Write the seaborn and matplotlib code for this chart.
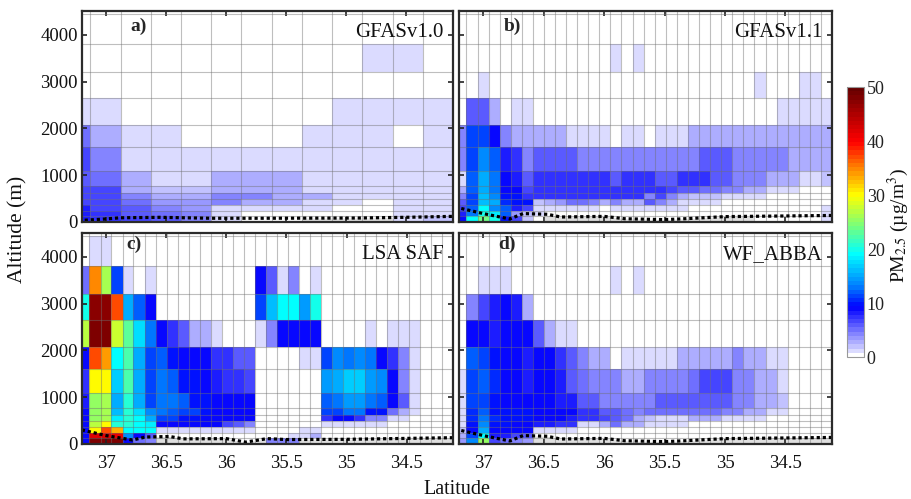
import numpy as np
import pandas as pd
import seaborn as sns
import matplotlib
matplotlib.use('Agg')
import matplotlib.pyplot as plt
from matplotlib.colors import LinearSegmentedColormap

# bin edges of the model grid
alt_edges = [0, 120, 240, 360, 490, 630, 780, 1100, 1600, 2070, 2640, 3210, 3800, 4450]
lat_coarse = [34.106, 34.358, 34.61, 34.862, 35.114, 35.366, 35.618, 35.87, 36.122, 36.374, 36.626, 36.878, 37.13, 37.38]
lat_fine = [34.115, 34.207, 34.298, 34.390, 34.482, 34.573, 34.665, 34.756, 34.848, 34.940, 35.031, 35.123,
            35.214, 35.306, 35.398, 35.489, 35.581, 35.672, 35.764, 35.856, 35.947, 36.039, 36.130, 36.222,
            36.314, 36.405, 36.497, 36.588, 36.680, 36.772, 36.863, 36.955, 37.046, 37.138, 37.23]

xtick_vals = [37, 36.5, 36, 35.5, 35, 34.5]
xtick_labels = ['37', '36.5', '36', '35.5', '35', '34.5']
ytick_vals = [0, 1000, 2000, 3000, 4000]
cbar_ticks = [0, 10, 20, 30, 40, 50]

# PM2.5, rows from top layer to surface, columns from north to south
pm_a = [
    [0, 0, 0, 0, 0, 0, 0, 0, 0, 0, 0, 0, 0],
    [0, 0, 0, 0, 0, 0, 0, 0, 0, 0, 1, 1, 0],
    [0, 0, 0, 0, 0, 0, 0, 0, 0, 0, 0, 0, 0],
    [1, 1, 0, 0, 0, 0, 0, 0, 0, 1, 1, 1, 1],
    [5, 2.7, 1, 1, 0, 0, 0, 0, 1, 1, 1, 0, 1],
    [6.5, 4.2, 1, 1, 1, 1, 1, 1, 1, 1, 1, 1, 1],
    [6, 5.2, 2.9, 1, 1, 2.9, 2.9, 2.9, 1, 1, 1, 1, 1],
    [6.5, 6.5, 2.7, 1.8, 1.8, 2.7, 2.7, 2.7, 1, 1, 1, 1, 1],
    [6.5, 6.5, 4.5, 3, 3, 4.5, 4.5, 3, 2.7, 1.2, 1, 1.2, 1.2],
    [7, 6.5, 5, 3.5, 3.2, 4.5, 2.5, 2.5, 1, 1, 0, 1, 1],
    [8, 7, 5.5, 4, 3.5, 1.2, 1, 1, 1, 0, 0, 1, 1],
    [8, 7.5, 6, 5, 4, 1, 0.6, 0.6, 0, 0, 0, 1.2, 1.5],
    [8, 7.5, 6.5, 6, 4.5, 1, 0.6, 0.6, 0, 0, 0, 1.5, 2],
]
pm_b = [
    [0] * 34,
    [0, 0, 0, 0, 0, 0, 0, 0, 0, 0, 0, 0, 0, 0, 1, 0, 1, 0, 0, 0, 0, 0, 0, 0, 0, 0, 0, 0, 0, 0, 0, 0, 0, 0],
    [0, 0, 1, 0, 0, 0, 0, 0, 0, 0, 0, 0, 0, 0, 0, 0, 0, 0, 0, 0, 0, 0, 0, 0, 0, 0, 0, 1, 0, 0, 0, 1, 1, 0],
    [0, 6, 6, 2.7, 0, 1, 1, 0, 0, 0, 0, 0, 0, 0, 0, 0, 0, 0, 0, 0, 0, 0, 0, 0, 0, 0, 0, 0, 0, 1, 1, 1, 1, 1],
    [4.5, 11.5, 11, 9, 4.5, 3, 2.8, 2.7, 2.5, 2.5, 1, 1, 1, 1, 0, 1, 1, 0, 1, 1, 1, 2.5, 2.7, 2.7, 2.7, 2.7, 2.7, 2.7, 2.7, 2.7, 2.7, 2.7, 2.7, 2.7],
    [4.5, 11.5, 13.5, 12, 8.5, 7.5, 4.5, 6, 6, 6, 6, 4.5, 4.5, 4.5, 4.5, 4.5, 4.5, 4.5, 4.5, 4.5, 4.5, 4.5, 6, 6, 6, 4.5, 4.5, 4.5, 4.5, 4.5, 3, 3, 3, 3],
    [1, 12, 15, 12.5, 9, 8, 6, 7.5, 7.5, 7.5, 7.5, 7.5, 7.5, 7.5, 5.5, 7.5, 7.5, 7.5, 6, 6, 7.5, 7.5, 7.5, 6, 6, 4.5, 4.5, 4, 2.5, 2.5, 2.5, 1, 1, 2],
    [2.5, 12, 15.5, 13, 9, 9, 7, 7.5, 7.5, 7.5, 7.5, 7.5, 7.5, 7.5, 7.5, 7.5, 7.5, 7.5, 7.5, 7, 5.5, 5.5, 5, 5, 4.5, 4, 2.5, 2.5, 1, 1, 1, 0, 0, 0],
    [4.5, 11, 16, 14, 10, 9.5, 7.5, 7.5, 7.5, 7.5, 7.5, 7.5, 7.5, 7.5, 7.5, 7.5, 7.5, 4.5, 7, 4.5, 3, 2, 2, 2, 1.5, 1.5, 1, 1, 0, 0, 0, 0, 0, 0],
    [5.5, 11, 16, 15, 10.5, 9.5, 9.5, 2, 3, 3.5, 5, 5, 4, 3, 4, 2.5, 2.5, 6, 4, 2.5, 1, 1, 1, 1, 0, 0, 0, 0, 0, 0, 0, 0, 0, 0],
    [6.5, 12, 19, 14, 12, 8, 7, 1, 1, 1, 1, 1, 1, 0.7, 1, 1, 1, 1, 1, 1, 1, 0, 0, 0, 0, 0, 0, 0, 0, 0, 0, 0, 0, 1.5],
    [8, 13, 20, 18, 12, 3.5, 2, 1, 0.7, 0.5, 0.5, 0.5, 0.5, 0.7, 0.7, 0.7, 0.7, 0.7, 0.7, 0.7, 0.5, 0.3, 0, 0, 0, 0, 0, 0, 0, 0, 0, 0, 0, 1.5],
    [9, 19, 24, 20, 10, 7, 2, 0.7, 0, 0, 0, 0, 0, 0, 0, 0, 0, 0, 0, 0, 0, 0, 0, 0, 0, 0, 0, 0.7, 0.7, 0.7, 0.7, 0.7, 0.7, 1.5],
]
pm_c = [
    [0, 1, 1, 0, 0, 0, 0, 0, 0, 0, 0, 0, 0, 0, 0, 0, 0, 0, 0, 0, 0, 0, 0, 0, 0, 0, 0, 0, 0, 0, 0, 0, 0, 0],
    [5, 35, 26, 11, 1, 0, 1, 0, 0, 0, 0, 0, 0, 0, 0, 0, 9, 6, 1, 4, 0, 1, 0, 0, 0, 0, 0, 0, 0, 0, 0, 0, 0, 0],
    [20, 47, 47, 37, 15, 12, 9, 0, 0, 0, 0, 0, 0, 0, 0, 0, 11, 16, 19, 19.5, 14.5, 20, 0, 0, 0, 0, 0, 0, 0, 0, 0, 0, 0, 0],
    [27, 48, 48, 28, 23, 17.5, 13, 9, 7.5, 6, 3, 3, 1, 0, 0, 0, 1, 4.5, 9, 9, 9, 9, 0, 0, 0, 0, 1, 0, 1, 1, 1, 0, 0, 0],
    [9, 37, 34, 19, 22, 15, 11, 12, 9.5, 9, 9, 9, 7.5, 7.5, 6, 5.5, 0, 0, 0, 0, 1, 1, 11, 13.5, 13, 13.5, 12.5, 9, 7.5, 4, 1, 0, 0, 0],
    [7.5, 30, 30, 17, 22, 15.5, 11.5, 13, 12, 9.5, 9.5, 9, 8.5, 7.5, 7.5, 7, 0, 0, 0, 0, 0, 0, 14.5, 15.5, 16.5, 16.5, 14.5, 13.5, 9, 4, 1, 0, 0, 0],
    [8, 25, 26, 15, 21, 15, 11, 13, 12.5, 12, 9.5, 9.5, 9, 9, 9, 9, 0, 0, 0, 0, 0, 0, 12, 12.5, 14.5, 14.5, 12.5, 12, 9, 6, 1, 0, 0, 0],
    [9, 25, 26, 16, 21, 17.5, 14, 12.5, 12, 11.5, 11, 9.5, 9, 9, 9, 9, 0, 0, 0, 0, 0, 0, 11, 11, 13, 13, 10, 9.5, 5, 2.5, 1, 0, 0, 0],
    [9, 25, 26, 18, 21, 19, 15, 11, 11, 10, 10, 9, 9, 9, 9, 9, 0, 0, 0, 0, 0, 0, 7.5, 9, 9, 7.5, 4, 4, 1, 1, 0, 0, 0, 0],
    [9, 27, 30, 21, 21, 19, 18.5, 9, 9, 9, 9, 9, 9, 7, 6, 4, 0, 0, 0, 0, 0, 0, 1, 1, 1, 1, 1, 1, 0, 0, 0, 0, 0, 0],
    [9, 30, 37, 33, 19, 19, 19, 1.5, 1.5, 1.5, 1.5, 1.5, 1.5, 1.5, 1.5, 1.5, 0, 0, 0, 0, 1, 1, 0, 0, 0, 0, 0, 0, 0, 0, 0, 0, 0, 0],
    [9, 42, 42, 41, 14, 9, 6, 0, 0, 0, 0, 0, 0, 0, 0, 0, 0, 0, 0, 1.5, 1, 3, 0, 0, 0, 0, 0, 0, 0, 0, 0, 0, 0, 0],
    [9, 48, 48, 48, 9, 5, 4.5, 0, 0, 0, 0, 0, 0, 0, 0, 0, 0, 4, 4, 4, 0, 0, 0, 0, 0, 0, 0, 0, 0, 0, 0, 0, 0, 0],
]
pm_d = [
    [0] * 34,
    [0, 0, 1, 1, 1, 0, 0, 0, 0, 0, 0, 0, 0, 0, 1, 0, 1, 0, 0, 0, 0, 0, 0, 0, 0, 0, 0, 0, 0, 0, 0, 0, 0, 0],
    [0, 4.5, 6.5, 8, 9, 8, 3, 0, 0, 0, 0, 0, 0, 0, 0, 0, 0, 0, 0, 0, 0, 0, 0, 0, 0, 0, 0, 0, 0, 0, 0, 0, 0, 0],
    [0, 9, 9, 8.5, 9, 9, 9, 6, 3, 1, 1, 0, 0, 0, 0, 0, 0, 0, 0, 0, 0, 0, 0, 0, 0, 0, 0, 0, 0, 0, 0, 0, 0, 0],
    [0, 12, 11, 9.5, 9, 9, 8.5, 9, 9, 7.5, 6, 4.5, 3, 3, 0, 1, 1, 1, 1, 1, 2.5, 2.7, 2.7, 2.7, 3, 4.5, 3, 2.7, 1, 1, 0, 0, 0, 0],
    [1, 11, 12, 10.5, 9, 9, 8.5, 9, 9, 8.5, 6, 5, 4.5, 4.5, 4.5, 3, 3, 4.5, 4.5, 4.5, 4.5, 5, 6.5, 6.5, 6.5, 4.5, 4, 3, 2.7, 1, 0, 0, 0, 0],
    [1, 11, 11.5, 10, 9, 9, 9, 9, 9, 8.5, 8, 6, 5.5, 4.5, 4.5, 4.5, 4, 4, 6, 6, 6, 6, 6, 6, 6, 4.5, 4.5, 3, 3, 2, 0, 0, 0, 0],
    [1.5, 10.5, 12, 10, 9.5, 9.5, 9.5, 9, 9, 9, 9, 7.5, 7.5, 5.5, 5.5, 5, 4.5, 5, 5, 5, 5, 5, 5, 5, 4.5, 4, 3, 2.5, 1, 1, 0, 0, 0, 0],
    [1.5, 10.5, 13, 10.5, 10, 9.5, 9.5, 9, 9, 9, 8, 7.5, 7.5, 6.5, 6, 5, 2.5, 2, 1.5, 1, 1.5, 2.5, 2.5, 2.5, 1, 1, 1, 1, 0, 0, 0, 0, 0, 0],
    [1.5, 9.5, 14, 9.5, 9.5, 9, 9, 8, 8, 7.5, 7.5, 1.5, 1, 2.5, 5, 2.5, 2.5, 1.5, 1, 1, 1, 0, 0, 0, 0, 0, 0, 0, 0, 0, 0, 0, 0, 0],
    [2, 9, 15, 9, 9, 9, 9, 1, 1, 1, 1, 0, 0.7, 0.7, 0, 0, 0, 0, 0, 0, 0, 0, 0, 0, 0, 0, 0, 0, 0, 0, 0, 0, 0, 0],
    [3, 11, 19, 8.5, 8, 7, 6, 0, 0, 0, 0, 0, 0, 0, 0, 0, 0, 0, 0, 0, 0, 0, 0, 0, 0, 0, 0, 0, 0, 0, 0, 0, 0, 0],
    [3.5, 14, 25, 6.5, 5, 4, 3.5, 0, 0, 0, 0, 0, 0, 0, 0, 0, 0, 0, 0, 0, 0, 0, 0, 0, 0, 0, 0, 0, 0, 0, 0, 0, 0, 0],
]

# terrain height under the cross-section
terrain_lat_a = [37.2, 37.0, 36.88, 36.55, 36.13, 35.72, 34.9, 34.5, 34.115]
terrain_alt_a = [35, 65, 90, 100, 80, 80, 85, 100, 120]
terrain_lat_bd = [37.2, 37.0, 36.78, 36.67, 36.47, 36.36, 36.0, 35.83, 35.5, 35.33, 35.0, 34.115]
terrain_alt_bd = [300, 180, 65, 180, 165, 107, 120, 70, 50, 70, 115, 140]
terrain_lat_c = [37.2, 37.0, 36.78, 36.67, 36.47, 36.36, 36.0, 35.84, 35.66, 35.5, 35.0, 34.115]
terrain_alt_c = [300, 180, 85, 150, 160, 110, 115, 40, 115, 95, 100, 135]

sns.set_theme(style='ticks')
plt.rcParams['font.family'] = ['Liberation Serif', 'DejaVu Serif']
plt.rcParams['mathtext.fontset'] = 'stix'

# white into jet, blue sits low on the scale
pm_cmap = LinearSegmentedColormap.from_list('pm25', [
    (0, (1, 1, 1)), (1 / 50, (.82, .82, 1)), (9 / 50, (0, 0, 1)), (13 / 50, (0, .5, 1)),
    (19 / 50, (0, 1, 1)), (24 / 50, (.45, 1, .5)), (30 / 50, (1, 1, 0)), (36 / 50, (1, .43, 0)),
    (40 / 50, (1, 0, 0)), (1, (.4, 0, 0))], N=64)

W, H = 912, 499
fig = plt.figure(figsize=(W / 100, H / 100), dpi=100)


def panel_axes(left, top, right, bottom):
    return fig.add_axes([left / W, 1 - bottom / H, (right - left) / W, (bottom - top) / H])


def draw_panel(ax, pm, lat_edges, t_lat, t_alt, tag, name, tag_x, tag_y, cax=None):
    # rows/columns come top-down and north-south, histplot wants long form
    lat_mid = (np.array(lat_edges[:-1]) + np.array(lat_edges[1:])) / 2
    alt_mid = (np.array(alt_edges[:-1]) + np.array(alt_edges[1:])) / 2
    vals = np.array(pm, dtype=float)[::-1, ::-1]
    xx, yy = np.meshgrid(lat_mid, alt_mid)
    df = pd.DataFrame({'lat': xx.ravel(), 'alt': yy.ravel(), 'pm': vals.ravel()})
    sns.histplot(data=df, x='lat', y='alt', weights='pm', bins=(lat_edges, alt_edges), ax=ax,
                 cmap=pm_cmap, vmin=0, vmax=50, cbar=cax is not None, cbar_ax=cax)

    # ground shows only where the mesh is empty
    ax.fill_between(t_lat, 0, t_alt, color='#808080', alpha=0.25, lw=0, zorder=0.5)
    sns.lineplot(x=t_lat, y=t_alt, ax=ax, color='black', lw=2.3, linestyle=(0, (1, 0.9)), zorder=5)

    ax.set_xlim(37.2, 34.115)
    ax.set_ylim(0, 4510)
    ax.set_xticks(xtick_vals)
    ax.set_yticks(ytick_vals)
    ax.set_xticks(lat_edges[:-1], minor=True)
    ax.set_yticks(alt_edges[1:], minor=True)
    ax.set_axisbelow(False)
    ax.grid(False)
    ax.grid(which='minor', color='#707070', lw=0.8, alpha=0.45, zorder=3)
    ax.tick_params(which='minor', length=0)
    ax.tick_params(which='major', direction='in', length=3.5, width=1.2, color='#222222',
                   top=True, right=True, labelsize=13.5, labelcolor='#111111')
    ax.tick_params(axis='x', which='major', pad=8)
    ax.tick_params(axis='y', which='major', pad=3)
    ax.set_xlabel('')
    ax.set_ylabel('')
    for sp in ax.spines.values():
        sp.set_linewidth(1.6)
        sp.set_color('#2b2b2b')
        sp.set_zorder(6)
    ax.text(tag_x, tag_y, tag, transform=ax.transAxes, fontsize=14, fontweight='bold', va='center', zorder=7)
    ax.text(0.975, 0.9, name, transform=ax.transAxes, fontsize=15, ha='right', va='center', color='#111111', zorder=7)


ax_a = panel_axes(82, 11, 453, 222)
ax_b = panel_axes(459, 11, 832, 222)
ax_c = panel_axes(82, 233, 453, 444)
ax_d = panel_axes(459, 233, 832, 444)
cax = panel_axes(847, 87, 864, 357)

draw_panel(ax_a, pm_a, lat_coarse, terrain_lat_a, terrain_alt_a, 'a)', 'GFASv1.0', 0.13, 0.925)
draw_panel(ax_b, pm_b, lat_fine, terrain_lat_bd, terrain_alt_bd, 'b)', 'GFASv1.1', 0.12, 0.925)
draw_panel(ax_c, pm_c, lat_fine, terrain_lat_c, terrain_alt_c, 'c)', 'LSA SAF', 0.12, 0.945, cax=cax)
draw_panel(ax_d, pm_d, lat_fine, terrain_lat_bd, terrain_alt_bd, 'd)', 'WF_ABBA', 0.106, 0.945)

ax_a.set_xticklabels([])
ax_b.set_xticklabels([])
ax_b.set_yticklabels([])
ax_d.set_yticklabels([])
ax_c.set_xticklabels(xtick_labels)
ax_d.set_xticklabels(xtick_labels)
ax_a.set_yticklabels([str(v) for v in ytick_vals])
ax_c.set_yticklabels([str(v) for v in ytick_vals])

cax.set_yticks(cbar_ticks)
cax.tick_params(direction='in', length=2.5, width=0.6, color='#555555', labelsize=13, pad=2,
                labelcolor='#222222', right=True, left=False)
for sp in cax.spines.values():
    sp.set_linewidth(0.8)
    sp.set_color('#999999')

fig.text(18 / W, 1 - 229 / H, 'Altitude (m)', rotation=90, fontsize=15.5, ha='center', va='center', color='#111111')
fig.text(457 / W, 1 - 490 / H, 'Latitude', fontsize=14.5, ha='center', va='center', color='#111111')
fig.text(898 / W, 1 - 225 / H, 'PM$_{2.5}$ (µg/m$^{3}$)', rotation=90, fontsize=14, ha='center', va='center', color='#111111')

fig.savefig('out.png', dpi=100)
